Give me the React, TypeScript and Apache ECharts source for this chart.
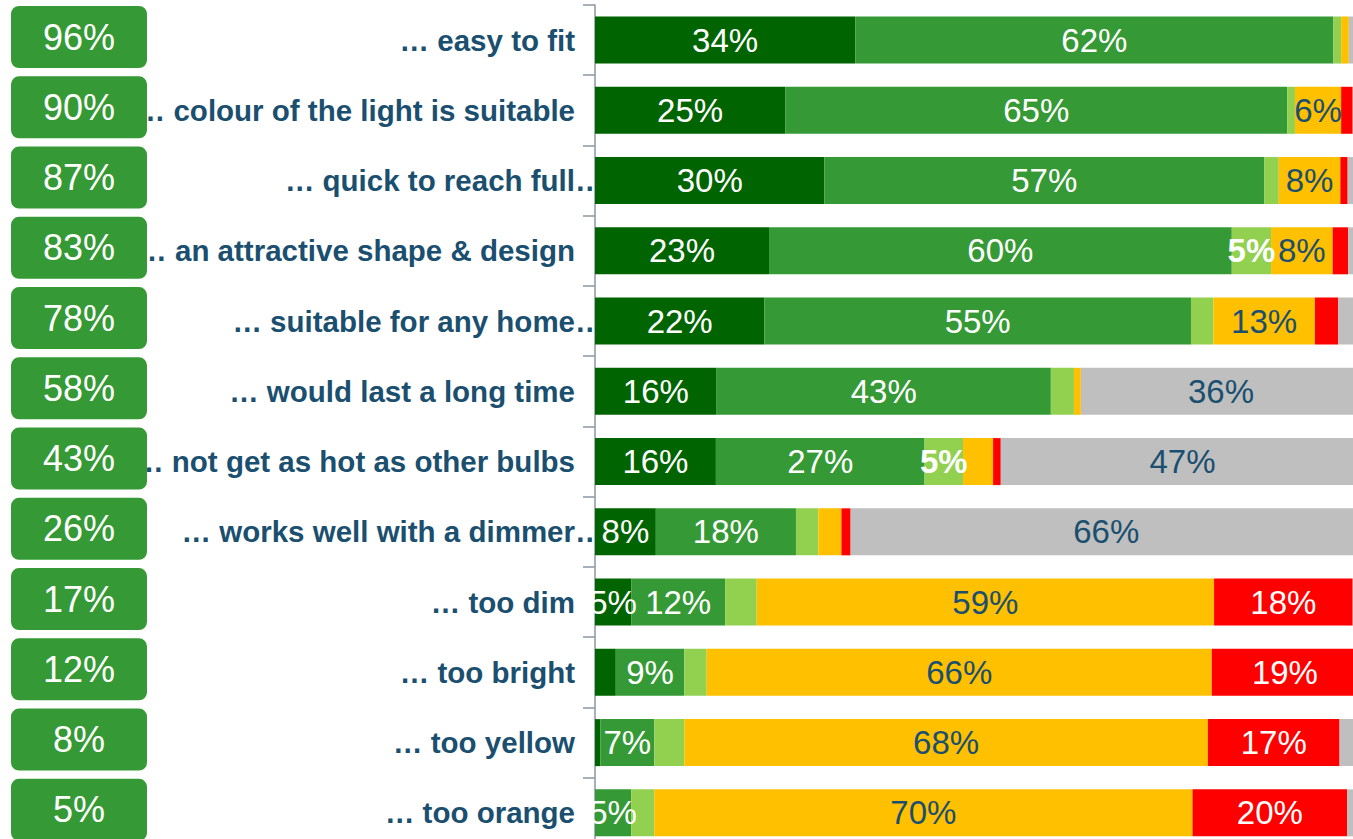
import React, { useEffect, useRef } from "react";
import * as echarts from "echarts";

const categories = [
  "… easy to fit",
  "… colour of the light is suitable",
  "… quick to reach full…",
  "… an attractive shape & design",
  "… suitable for any home…",
  "… would last a long time",
  "… not get as hot as other bulbs",
  "… works well with a dimmer…",
  "… too dim",
  "… too bright",
  "… too yellow",
  "… too orange",
];

const agreeTotals = [96, 90, 87, 83, 78, 58, 43, 26, 17, 12, 8, 5];

const agreeStrongly = [33.8, 24.7, 29.8, 22.6, 22.0, 15.8, 15.7, 7.9, 4.7, 2.7, 0.7, 0];
const agreeSlightly = [62.1, 65.2, 57.1, 60.1, 55.4, 43.4, 27.1, 18.2, 12.2, 8.9, 7.0, 4.7];
const neither = [1.0, 1.0, 1.9, 5.1, 2.9, 3.0, 5.0, 2.9, 4.1, 2.9, 3.9, 3.0];
const disagreeSlightly = [1.0, 6.0, 8.0, 8.0, 13.2, 0.9, 3.9, 3.0, 59.4, 65.6, 68.0, 69.9];
const disagreeStrongly = [0, 1.5, 0.95, 2.0, 3.0, 0, 1.0, 1.2, 18.0, 19.0, 17.1, 20.1];
const dontKnow = [2.1, 1.6, 2.25, 2.2, 3.5, 36.4, 47.2, 66.4, 1.6, 0.9, 3.3, 2.3];

const FONT = "'Liberation Sans', Arial, sans-serif";
const TEXT_BLUE = "#1b4f6f";
const BOX_GREEN = "#359a35";

const seriesDefs = [
  { name: "Agree strongly", data: agreeStrongly, color: "#006400", label: "#ffffff", bold: false },
  { name: "Agree slightly", data: agreeSlightly, color: "#359a35", label: "#ffffff", bold: false },
  { name: "Neither", data: neither, color: "#92d050", label: "#ffffff", bold: true },
  { name: "Disagree slightly", data: disagreeSlightly, color: "#ffc000", label: TEXT_BLUE, bold: false },
  { name: "Disagree strongly", data: disagreeStrongly, color: "#ff0000", label: "#ffffff", bold: false },
  { name: "Don't know", data: dontKnow, color: "#bfbfbf", label: TEXT_BLUE, bold: false },
];

export default function App() {
  const ref = useRef<HTMLDivElement>(null);

  useEffect(() => {
    if (!ref.current) return;
    const chart = echarts.init(ref.current, undefined, { renderer: "svg" });

    const labelStyle = {
      fontSize: 29.5,
      fontWeight: "bold" as const,
      color: TEXT_BLUE,
      fontFamily: FONT,
      align: "left" as const,
    };

    chart.setOption({
      animation: false,
      backgroundColor: "#ffffff",
      grid: { left: 595, right: 0, top: 4.9, bottom: 0, containLabel: false },
      xAxis: {
        type: "value",
        min: 0,
        max: 100,
        show: false,
        splitLine: { show: false },
      },
      yAxis: {
        type: "category",
        inverse: true,
        data: categories,
        axisLine: { show: true, lineStyle: { color: "#8c96a2", width: 1.5 } },
        axisTick: { show: true, length: 12, interval: 0, lineStyle: { color: "#8c96a2", width: 1.5 } },
        axisLabel: {
          interval: 0,
          margin: 20,
          formatter: (v: string) => {
            if (v.length > 2 && v.endsWith("…")) {
              return `{m|${v.slice(0, -1)}}{e|…}`;
            }
            return `{m|${v}}`;
          },
          rich: {
            m: { ...labelStyle },
            e: { ...labelStyle, width: 0 },
          },
        },
      },
      series: seriesDefs.map((s) => ({
        name: s.name,
        type: "bar",
        stack: "total",
        barWidth: 47,
        data: s.data,
        itemStyle: { color: s.color },
        label: {
          show: true,
          position: "inside",
          color: s.label,
          fontSize: 33,
          fontWeight: s.bold ? "bold" : "normal",
          fontFamily: FONT,
          formatter: (p: any) => (p.value >= 4.5 ? `${Math.round(p.value)}%` : ""),
        },
      })),
    });

    const boxes = agreeTotals.map((t, i) => {
      const cy = chart.convertToPixel({ yAxisIndex: 0 }, i) as number;
      return {
        type: "group",
        z: 100,
        children: [
          {
            type: "rect",
            z: 100,
            shape: { x: 11, y: cy - 34, width: 136, height: 62, r: 8 },
            style: { fill: BOX_GREEN },
          },
          {
            type: "text",
            z: 101,
            x: 79,
            y: cy - 3,
            style: {
              text: `${t}%`,
              fill: "#ffffff",
              fontSize: 36,
              fontFamily: FONT,
              align: "center",
              verticalAlign: "middle",
            },
          },
        ],
      };
    });
    chart.setOption({ graphic: boxes });

    return () => chart.dispose();
  }, []);

  return (
    <div
      ref={ref}
      style={{ position: "fixed", left: 0, top: 0, width: 1365, height: 848 }}
    />
  );
}
